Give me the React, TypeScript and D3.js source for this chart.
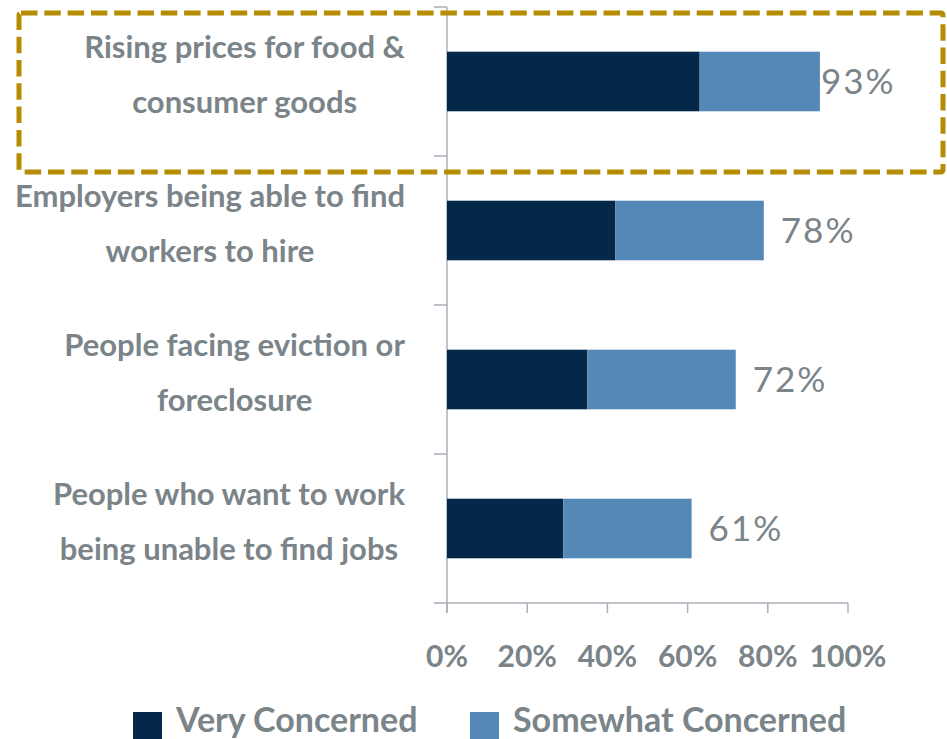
import React, { useEffect, useRef } from "react";
import * as d3 from "d3";

const categories = [
  ["Rising prices for food &", "consumer goods"],
  ["Employers being able to find", "workers to hire"],
  ["People facing eviction or", "foreclosure"],
  ["People who want to work", "being unable to find jobs"],
];
const veryConcerned = [63, 42, 35, 29];
const somewhatConcerned = [30, 37, 37, 32];
const totalLabels = ["93%", "78%", "72%", "61%"];
const xTicks = [0, 20, 40, 60, 80, 100];
const seriesNames = ["Very Concerned", "Somewhat Concerned"];

const W = 947;
const H = 739;
const DARK = "#03284a";
const LIGHT = "#5488b6";
const TEXT = "#7a8489";
const AXIS = "#a9b1b9";
const GOLD = "#b68c00";
const FONT = "Lato, 'Open Sans', sans-serif";

export default function App() {
  const ref = useRef<SVGSVGElement | null>(null);

  useEffect(() => {
    const svg = d3.select(ref.current);
    svg.selectAll("*").remove();

    const x = d3.scaleLinear().domain([0, 100]).range([447, 848]);
    const ids = categories.map((_, i) => String(i));
    const y = d3.scaleBand().domain(ids).range([7, 603]).paddingInner(0.6).paddingOuter(0.3);
    const yOuter = d3.scaleBand().domain(ids).range([7, 603]).padding(0);

    // axes
    const g = svg.append("g");
    g.append("line")
      .attr("x1", x(0)).attr("x2", x(0))
      .attr("y1", yOuter.range()[0]).attr("y2", 613)
      .attr("stroke", AXIS).attr("stroke-width", 1.5);
    const yTickPos = [...ids.map((d) => yOuter(d) as number), yOuter.range()[1]];
    g.selectAll(".ytick").data(yTickPos).enter().append("line")
      .attr("x1", x(0) - 13).attr("x2", x(0))
      .attr("y1", (d) => d).attr("y2", (d) => d)
      .attr("stroke", AXIS).attr("stroke-width", 1.5);
    g.append("line")
      .attr("x1", x(0)).attr("x2", x(100))
      .attr("y1", 603).attr("y2", 603)
      .attr("stroke", AXIS).attr("stroke-width", 1.5);
    g.selectAll(".xtick").data(xTicks).enter().append("line")
      .attr("x1", (d) => x(d)).attr("x2", (d) => x(d))
      .attr("y1", 603).attr("y2", 613)
      .attr("stroke", AXIS).attr("stroke-width", 1.5);
    g.selectAll(".xlab").data(xTicks).enter().append("text")
      .attr("x", (d) => x(d)).attr("y", 667)
      .attr("text-anchor", "middle")
      .attr("font-family", FONT).attr("font-size", 30).attr("font-weight", 700)
      .attr("fill", TEXT)
      .text((d) => `${d}%`);

    // bars
    const bh = y.bandwidth();
    svg.append("g").selectAll("rect").data(veryConcerned).enter().append("rect")
      .attr("x", x(0)).attr("y", (_, i) => y(ids[i]) as number)
      .attr("width", (d) => x(d) - x(0)).attr("height", bh)
      .attr("fill", DARK);
    svg.append("g").selectAll("rect").data(somewhatConcerned).enter().append("rect")
      .attr("x", (_, i) => x(veryConcerned[i]))
      .attr("y", (_, i) => y(ids[i]) as number)
      .attr("width", (d, i) => x(veryConcerned[i] + d) - x(veryConcerned[i]))
      .attr("height", bh)
      .attr("fill", LIGHT);

    // value labels
    svg.append("g").selectAll("text").data(totalLabels).enter().append("text")
      .attr("x", (_, i) => Math.min(x(veryConcerned[i] + somewhatConcerned[i]) + 17, 821))
      .attr("y", (_, i) => (y(ids[i]) as number) + bh / 2 + 12)
      .attr("font-family", FONT).attr("font-size", 35).attr("font-weight", 400)
      .attr("letter-spacing", 2)
      .attr("fill", TEXT)
      .text((d) => d);

    // category labels
    const labG = svg.append("g");
    categories.forEach((lines, i) => {
      const c = (y(ids[i]) as number) + bh / 2;
      const texts = lines.map((ln, j) =>
        labG.append("text")
          .attr("y", c + (j === 0 ? -24 : 31))
          .attr("text-anchor", "middle")
          .attr("font-family", FONT).attr("font-size", 31).attr("font-weight", 700)
          .attr("fill", TEXT)
          .text(ln)
      );
      const widths = texts.map((t) => (t.node() as SVGTextElement).getComputedTextLength());
      const mw = Math.max(...widths);
      texts.forEach((t) => t.attr("x", 405 - mw / 2));
    });

    // highlight box
    svg.append("rect")
      .attr("x", 19).attr("y", 13).attr("width", 943 - 19).attr("height", 172 - 13)
      .attr("rx", 2)
      .attr("fill", "none").attr("stroke", GOLD).attr("stroke-width", 5)
      .attr("stroke-dasharray", "16.5 6.8");

    // legend
    const legX = [133, 470];
    const leg = svg.append("g");
    seriesNames.forEach((name, i) => {
      leg.append("rect").attr("x", legX[i]).attr("y", 712).attr("width", 29).attr("height", 29)
        .attr("fill", i === 0 ? DARK : LIGHT);
      leg.append("text").attr("x", legX[i] + 43).attr("y", 732)
        .attr("font-family", FONT).attr("font-size", 34).attr("font-weight", 700)
        .attr("fill", TEXT).text(name);
    });
  }, []);

  return (
    <div style={{ position: "absolute", left: 0, top: 0, width: W, height: H, background: "#fff" }}>
      <svg ref={ref} width={W} height={H} style={{ display: "block" }} />
    </div>
  );
}
